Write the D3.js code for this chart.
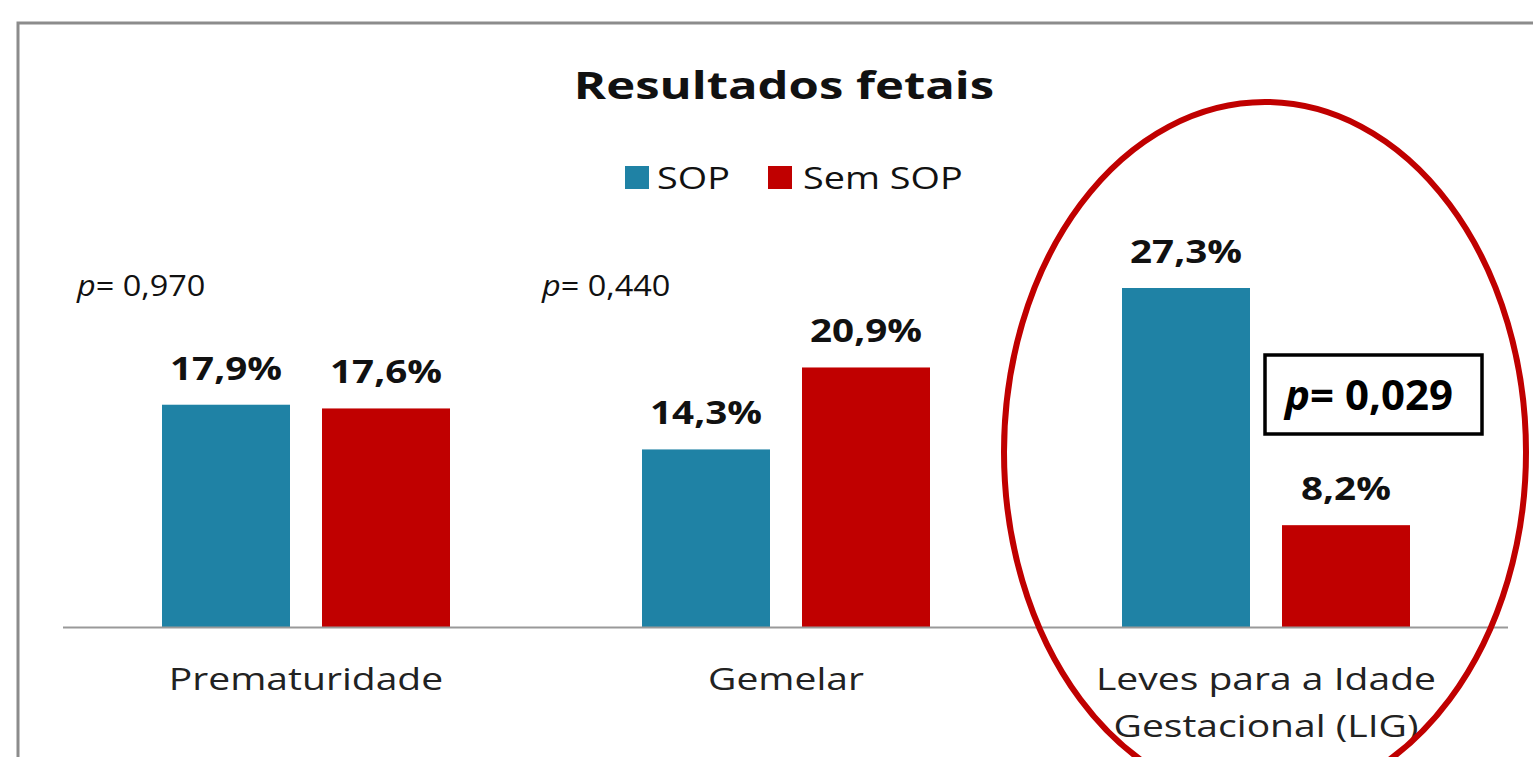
<!DOCTYPE html>
<html><head><meta charset="utf-8">
<script src="https://cdn.jsdelivr.net/npm/d3@7"></script>
<style>body{margin:0;background:#fff;}svg{display:block;font-family:"Open Sans",sans-serif;}</style>
</head><body>
<svg id="c" width="1533" height="757"></svg>
<script>
const categories = ["Prematuridade", "Gemelar", "Leves para a Idade|Gestacional (LIG)"];
const seriesNames = ["SOP", "Sem SOP"];
const sopValues = [17.9, 14.3, 27.3];
const semSopValues = [17.6, 20.9, 8.2];
const pValues = ["0,970", "0,440", "0,029"];
const colors = ["#1f82a5", "#c00000"];

const svg = d3.select("#c");
svg.append("rect").attr("x",18).attr("y",23).attr("width",1600).attr("height",800)
  .attr("fill","none").attr("stroke","#8c8c8c").attr("stroke-width",3);

function txt(x, y, size, sx, anchor){
  return svg.append("text").attr("transform",`translate(${x},${y}) scale(${sx},1)`)
    .attr("text-anchor",anchor||"start").attr("font-size",size).attr("fill","#111");
}

const x0 = d3.scaleBand().domain(categories).range([66,1506]);
const x1 = d3.scaleBand().domain(seriesNames).range([0,288]).paddingInner(0.2);
const y = d3.scaleLinear().domain([0,27.3]).range([627,288]);

txt(784,99,38,1.29,"middle").attr("font-weight","bold").text("Resultados fetais");

// legend
const leg = [{x:625,tx:657},{x:768,tx:803}];
seriesNames.forEach((s,i)=>{
  svg.append("rect").attr("x",leg[i].x).attr("y",166).attr("width",24).attr("height",23).attr("fill",colors[i]);
  txt(leg[i].tx,189,31,1.22).text(s);
});

const data = categories.map((c,i)=>({c, vals:[sopValues[i], semSopValues[i]]}));
data.forEach(d=>{
  const gx = x0(d.c) + (x0.bandwidth()-288)/2;
  d.vals.forEach((v,j)=>{
    const bx = gx + x1(seriesNames[j]);
    svg.append("rect").attr("x",bx).attr("y",y(v)).attr("width",x1.bandwidth()).attr("height",627-y(v)).attr("fill",colors[j]);
    txt(bx+x1.bandwidth()/2, y(v)-25, 33, 1.17, "middle").attr("font-weight","bold")
      .text(v.toFixed(1).replace(".",",")+"%");
  });
  d.c.split("|").forEach((l,k)=>{
    txt(x0(d.c)+x0.bandwidth()/2, 690+k*47, 31, 1.26, "middle").attr("fill","#222").text(l);
  });
});

// axis baseline
svg.append("line").attr("x1",63).attr("x2",1508).attr("y1",627.5).attr("y2",627.5).attr("stroke","#999").attr("stroke-width",2);

// p labels
[[77,0],[542,1]].forEach(([px,i])=>{
  const t = txt(px,296,29,1.12);
  t.append("tspan").attr("font-style","italic").text("p");
  t.append("tspan").text("= "+pValues[i]);
});

// box
svg.append("rect").attr("x",1265).attr("y",355).attr("width",217).attr("height",79).attr("fill","#fff").attr("stroke","#000").attr("stroke-width",3.5);
const bt = txt(1285,410,42,1.0).attr("font-weight","bold").attr("fill","#000");
bt.append("tspan").attr("font-style","italic").text("p");
bt.append("tspan").text("= "+pValues[2]);

// ellipse
svg.append("ellipse").attr("cx",1265).attr("cy",452).attr("rx",261).attr("ry",350)
  .attr("fill","none").attr("stroke","#c00000").attr("stroke-width",6);
</script>
</body></html>
